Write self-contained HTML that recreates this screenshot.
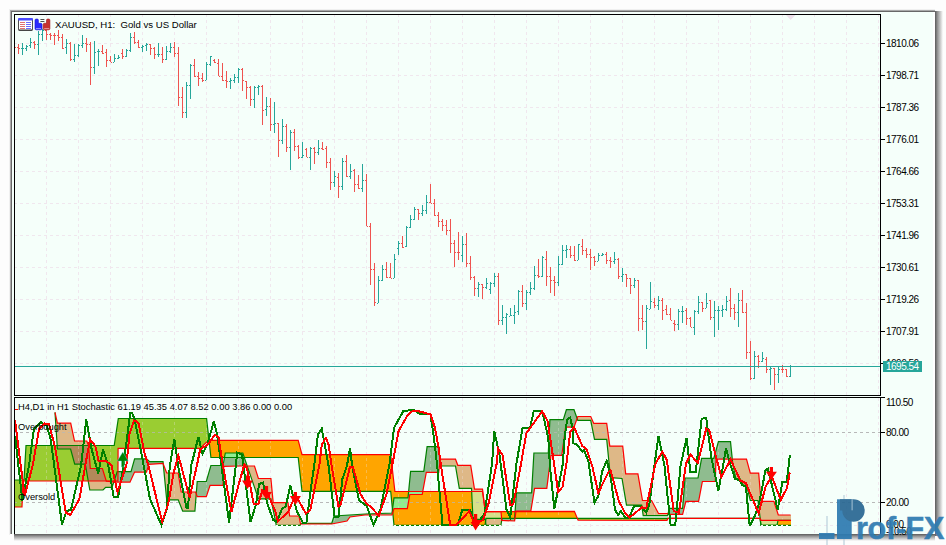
<!DOCTYPE html>
<html><head><meta charset="utf-8">
<style>
html,body{margin:0;padding:0;background:#fdfdfd;}
body{width:946px;height:545px;position:relative;overflow:hidden;font-family:"Liberation Sans",sans-serif;}
svg{position:absolute;left:0;top:0;}
.ax{position:absolute;left:886px;font-size:10px;line-height:12px;color:#000;letter-spacing:-0.5px;}
.t{position:absolute;font-size:9.6px;line-height:12px;color:#000;white-space:nowrap;}
.pl{position:absolute;left:883px;top:361px;width:39px;height:11px;background:#26a69a;color:#fff;font-size:10px;line-height:11px;padding-left:0px;text-indent:3px;letter-spacing:-0.5px;}
</style></head><body>
<svg width="946" height="545" viewBox="0 0 946 545">
<rect x="0" y="0" width="946" height="545" fill="#fdfdfd"/><defs>
<linearGradient id="shR" x1="0" x2="1" y1="0" y2="0"><stop offset="0" stop-color="#5a5a5a"/><stop offset="0.35" stop-color="#9a9a9a"/><stop offset="1" stop-color="#fdfdfd"/></linearGradient>
<linearGradient id="shB" x1="0" x2="0" y1="0" y2="1"><stop offset="0" stop-color="#5a5a5a"/><stop offset="0.35" stop-color="#9a9a9a"/><stop offset="1" stop-color="#fdfdfd"/></linearGradient>
</defs><rect x="935" y="11" width="8" height="525" fill="url(#shR)"/><rect x="14" y="534" width="921" height="7" fill="url(#shB)"/><rect x="9" y="9" width="926" height="1" fill="#f0f0f0"/><rect x="9" y="9" width="1" height="526" fill="#f0f0f0"/><rect x="10" y="10" width="925" height="524" fill="#a9a9a9"/><rect x="11" y="11" width="924" height="523" fill="#686868"/><rect x="12" y="12" width="923" height="522" fill="#f5fffa"/><rect x="933" y="12" width="2" height="522" fill="#ffffff"/><line x1="14" y1="43.5" x2="880" y2="43.5" stroke="#f0e7ee" stroke-width="1" stroke-dasharray="3 3" stroke-dashoffset="0"/><line x1="14" y1="75.5" x2="880" y2="75.5" stroke="#f0e7ee" stroke-width="1" stroke-dasharray="3 3" stroke-dashoffset="0"/><line x1="14" y1="107.5" x2="880" y2="107.5" stroke="#f0e7ee" stroke-width="1" stroke-dasharray="3 3" stroke-dashoffset="0"/><line x1="14" y1="139.5" x2="880" y2="139.5" stroke="#f0e7ee" stroke-width="1" stroke-dasharray="3 3" stroke-dashoffset="0"/><line x1="14" y1="171.5" x2="880" y2="171.5" stroke="#f0e7ee" stroke-width="1" stroke-dasharray="3 3" stroke-dashoffset="0"/><line x1="14" y1="203.5" x2="880" y2="203.5" stroke="#f0e7ee" stroke-width="1" stroke-dasharray="3 3" stroke-dashoffset="0"/><line x1="14" y1="235.5" x2="880" y2="235.5" stroke="#f0e7ee" stroke-width="1" stroke-dasharray="3 3" stroke-dashoffset="0"/><line x1="14" y1="267.5" x2="880" y2="267.5" stroke="#f0e7ee" stroke-width="1" stroke-dasharray="3 3" stroke-dashoffset="0"/><line x1="14" y1="299.5" x2="880" y2="299.5" stroke="#f0e7ee" stroke-width="1" stroke-dasharray="3 3" stroke-dashoffset="0"/><line x1="14" y1="331.5" x2="880" y2="331.5" stroke="#f0e7ee" stroke-width="1" stroke-dasharray="3 3" stroke-dashoffset="0"/><line x1="14" y1="363.5" x2="880" y2="363.5" stroke="#f0e7ee" stroke-width="1" stroke-dasharray="3 3" stroke-dashoffset="0"/><line x1="46.5" y1="14" x2="46.5" y2="395" stroke="#f0e7ee" stroke-width="1" stroke-dasharray="3 3" stroke-dashoffset="0"/><line x1="46.5" y1="398" x2="46.5" y2="534" stroke="#f0e7ee" stroke-width="1" stroke-dasharray="3 3" stroke-dashoffset="0"/><line x1="78.5" y1="14" x2="78.5" y2="395" stroke="#f0e7ee" stroke-width="1" stroke-dasharray="3 3" stroke-dashoffset="0"/><line x1="78.5" y1="398" x2="78.5" y2="534" stroke="#f0e7ee" stroke-width="1" stroke-dasharray="3 3" stroke-dashoffset="0"/><line x1="110.5" y1="14" x2="110.5" y2="395" stroke="#f0e7ee" stroke-width="1" stroke-dasharray="3 3" stroke-dashoffset="0"/><line x1="110.5" y1="398" x2="110.5" y2="534" stroke="#f0e7ee" stroke-width="1" stroke-dasharray="3 3" stroke-dashoffset="0"/><line x1="142.5" y1="14" x2="142.5" y2="395" stroke="#f0e7ee" stroke-width="1" stroke-dasharray="3 3" stroke-dashoffset="0"/><line x1="142.5" y1="398" x2="142.5" y2="534" stroke="#f0e7ee" stroke-width="1" stroke-dasharray="3 3" stroke-dashoffset="0"/><line x1="174.5" y1="14" x2="174.5" y2="395" stroke="#f0e7ee" stroke-width="1" stroke-dasharray="3 3" stroke-dashoffset="0"/><line x1="174.5" y1="398" x2="174.5" y2="534" stroke="#f0e7ee" stroke-width="1" stroke-dasharray="3 3" stroke-dashoffset="0"/><line x1="206.5" y1="14" x2="206.5" y2="395" stroke="#f0e7ee" stroke-width="1" stroke-dasharray="3 3" stroke-dashoffset="0"/><line x1="206.5" y1="398" x2="206.5" y2="534" stroke="#f0e7ee" stroke-width="1" stroke-dasharray="3 3" stroke-dashoffset="0"/><line x1="238.5" y1="14" x2="238.5" y2="395" stroke="#f0e7ee" stroke-width="1" stroke-dasharray="3 3" stroke-dashoffset="0"/><line x1="238.5" y1="398" x2="238.5" y2="534" stroke="#f0e7ee" stroke-width="1" stroke-dasharray="3 3" stroke-dashoffset="0"/><line x1="270.5" y1="14" x2="270.5" y2="395" stroke="#f0e7ee" stroke-width="1" stroke-dasharray="3 3" stroke-dashoffset="0"/><line x1="270.5" y1="398" x2="270.5" y2="534" stroke="#f0e7ee" stroke-width="1" stroke-dasharray="3 3" stroke-dashoffset="0"/><line x1="302.5" y1="14" x2="302.5" y2="395" stroke="#f0e7ee" stroke-width="1" stroke-dasharray="3 3" stroke-dashoffset="0"/><line x1="302.5" y1="398" x2="302.5" y2="534" stroke="#f0e7ee" stroke-width="1" stroke-dasharray="3 3" stroke-dashoffset="0"/><line x1="334.5" y1="14" x2="334.5" y2="395" stroke="#f0e7ee" stroke-width="1" stroke-dasharray="3 3" stroke-dashoffset="0"/><line x1="334.5" y1="398" x2="334.5" y2="534" stroke="#f0e7ee" stroke-width="1" stroke-dasharray="3 3" stroke-dashoffset="0"/><line x1="366.5" y1="14" x2="366.5" y2="395" stroke="#f0e7ee" stroke-width="1" stroke-dasharray="3 3" stroke-dashoffset="0"/><line x1="366.5" y1="398" x2="366.5" y2="534" stroke="#f0e7ee" stroke-width="1" stroke-dasharray="3 3" stroke-dashoffset="0"/><line x1="398.5" y1="14" x2="398.5" y2="395" stroke="#f0e7ee" stroke-width="1" stroke-dasharray="3 3" stroke-dashoffset="0"/><line x1="398.5" y1="398" x2="398.5" y2="534" stroke="#f0e7ee" stroke-width="1" stroke-dasharray="3 3" stroke-dashoffset="0"/><line x1="430.5" y1="14" x2="430.5" y2="395" stroke="#f0e7ee" stroke-width="1" stroke-dasharray="3 3" stroke-dashoffset="0"/><line x1="430.5" y1="398" x2="430.5" y2="534" stroke="#f0e7ee" stroke-width="1" stroke-dasharray="3 3" stroke-dashoffset="0"/><line x1="462.5" y1="14" x2="462.5" y2="395" stroke="#f0e7ee" stroke-width="1" stroke-dasharray="3 3" stroke-dashoffset="0"/><line x1="462.5" y1="398" x2="462.5" y2="534" stroke="#f0e7ee" stroke-width="1" stroke-dasharray="3 3" stroke-dashoffset="0"/><line x1="494.5" y1="14" x2="494.5" y2="395" stroke="#f0e7ee" stroke-width="1" stroke-dasharray="3 3" stroke-dashoffset="0"/><line x1="494.5" y1="398" x2="494.5" y2="534" stroke="#f0e7ee" stroke-width="1" stroke-dasharray="3 3" stroke-dashoffset="0"/><line x1="526.5" y1="14" x2="526.5" y2="395" stroke="#f0e7ee" stroke-width="1" stroke-dasharray="3 3" stroke-dashoffset="0"/><line x1="526.5" y1="398" x2="526.5" y2="534" stroke="#f0e7ee" stroke-width="1" stroke-dasharray="3 3" stroke-dashoffset="0"/><line x1="558.5" y1="14" x2="558.5" y2="395" stroke="#f0e7ee" stroke-width="1" stroke-dasharray="3 3" stroke-dashoffset="0"/><line x1="558.5" y1="398" x2="558.5" y2="534" stroke="#f0e7ee" stroke-width="1" stroke-dasharray="3 3" stroke-dashoffset="0"/><line x1="590.5" y1="14" x2="590.5" y2="395" stroke="#f0e7ee" stroke-width="1" stroke-dasharray="3 3" stroke-dashoffset="0"/><line x1="590.5" y1="398" x2="590.5" y2="534" stroke="#f0e7ee" stroke-width="1" stroke-dasharray="3 3" stroke-dashoffset="0"/><line x1="622.5" y1="14" x2="622.5" y2="395" stroke="#f0e7ee" stroke-width="1" stroke-dasharray="3 3" stroke-dashoffset="0"/><line x1="622.5" y1="398" x2="622.5" y2="534" stroke="#f0e7ee" stroke-width="1" stroke-dasharray="3 3" stroke-dashoffset="0"/><line x1="654.5" y1="14" x2="654.5" y2="395" stroke="#f0e7ee" stroke-width="1" stroke-dasharray="3 3" stroke-dashoffset="0"/><line x1="654.5" y1="398" x2="654.5" y2="534" stroke="#f0e7ee" stroke-width="1" stroke-dasharray="3 3" stroke-dashoffset="0"/><line x1="686.5" y1="14" x2="686.5" y2="395" stroke="#f0e7ee" stroke-width="1" stroke-dasharray="3 3" stroke-dashoffset="0"/><line x1="686.5" y1="398" x2="686.5" y2="534" stroke="#f0e7ee" stroke-width="1" stroke-dasharray="3 3" stroke-dashoffset="0"/><line x1="718.5" y1="14" x2="718.5" y2="395" stroke="#f0e7ee" stroke-width="1" stroke-dasharray="3 3" stroke-dashoffset="0"/><line x1="718.5" y1="398" x2="718.5" y2="534" stroke="#f0e7ee" stroke-width="1" stroke-dasharray="3 3" stroke-dashoffset="0"/><line x1="750.5" y1="14" x2="750.5" y2="395" stroke="#f0e7ee" stroke-width="1" stroke-dasharray="3 3" stroke-dashoffset="0"/><line x1="750.5" y1="398" x2="750.5" y2="534" stroke="#f0e7ee" stroke-width="1" stroke-dasharray="3 3" stroke-dashoffset="0"/><line x1="782.5" y1="14" x2="782.5" y2="395" stroke="#f0e7ee" stroke-width="1" stroke-dasharray="3 3" stroke-dashoffset="0"/><line x1="782.5" y1="398" x2="782.5" y2="534" stroke="#f0e7ee" stroke-width="1" stroke-dasharray="3 3" stroke-dashoffset="0"/><line x1="814.5" y1="14" x2="814.5" y2="395" stroke="#f0e7ee" stroke-width="1" stroke-dasharray="3 3" stroke-dashoffset="0"/><line x1="814.5" y1="398" x2="814.5" y2="534" stroke="#f0e7ee" stroke-width="1" stroke-dasharray="3 3" stroke-dashoffset="0"/><line x1="846.5" y1="14" x2="846.5" y2="395" stroke="#f0e7ee" stroke-width="1" stroke-dasharray="3 3" stroke-dashoffset="0"/><line x1="846.5" y1="398" x2="846.5" y2="534" stroke="#f0e7ee" stroke-width="1" stroke-dasharray="3 3" stroke-dashoffset="0"/><line x1="878.5" y1="14" x2="878.5" y2="395" stroke="#f0e7ee" stroke-width="1" stroke-dasharray="3 3" stroke-dashoffset="0"/><line x1="878.5" y1="398" x2="878.5" y2="534" stroke="#f0e7ee" stroke-width="1" stroke-dasharray="3 3" stroke-dashoffset="0"/><line x1="14" y1="525.5" x2="880" y2="525.5" stroke="#f0e7ee" stroke-width="1" stroke-dasharray="3 3" stroke-dashoffset="0"/><line x1="14" y1="432.5" x2="880" y2="432.5" stroke="#b8b8b8" stroke-width="1" stroke-dasharray="3 3" stroke-dashoffset="0"/><line x1="14" y1="502.5" x2="880" y2="502.5" stroke="#b8b8b8" stroke-width="1" stroke-dasharray="3 3" stroke-dashoffset="0"/><g fill="none" stroke-width="1" shape-rendering="crispEdges"><path d="M18.5 44V54M17 47.5H18M19 48.5H20" stroke="#ef5350"/><path d="M22.5 43V55M21 48.5H22M23 48.5H24" stroke="#26a69a"/><path d="M26.5 45V51M25 48.5H26M27 46.5H28" stroke="#26a69a"/><path d="M30.5 38V48M29 45.5H30M31 42.5H32" stroke="#26a69a"/><path d="M34.5 41V49M33 42.5H34M35 44.5H36" stroke="#ef5350"/><path d="M38.5 31V55M37 44.5H38M39 34.5H40" stroke="#26a69a"/><path d="M42.5 29V41M41 34.5H42M43 30.5H44" stroke="#26a69a"/><path d="M46.5 30V40M45 30.5H46M47 34.5H48" stroke="#ef5350"/><path d="M50.5 33V40M49 34.5H50M51 35.5H52" stroke="#ef5350"/><path d="M54.5 33V45M53 35.5H54M55 35.5H56" stroke="#ef5350"/><path d="M58.5 30V41M57 35.5H58M59 37.5H60" stroke="#ef5350"/><path d="M62.5 34V49M61 37.5H62M63 48.5H64" stroke="#ef5350"/><path d="M66.5 39V54M65 47.5H66M67 43.5H68" stroke="#26a69a"/><path d="M70.5 42V61M69 43.5H70M71 59.5H72" stroke="#ef5350"/><path d="M74.5 44V62M73 59.5H74M75 55.5H76" stroke="#26a69a"/><path d="M78.5 44V57M77 55.5H78M79 45.5H80" stroke="#26a69a"/><path d="M82.5 35V48M81 45.5H82M83 43.5H84" stroke="#26a69a"/><path d="M86.5 38V52M85 43.5H86M87 44.5H88" stroke="#ef5350"/><path d="M90.5 42V85M89 44.5H90M91 67.5H92" stroke="#ef5350"/><path d="M94.5 41V74M93 67.5H94M95 52.5H96" stroke="#26a69a"/><path d="M98.5 49V66M97 51.5H98M99 51.5H100" stroke="#26a69a"/><path d="M102.5 45V54M101 51.5H102M103 53.5H104" stroke="#ef5350"/><path d="M106.5 49V67M105 52.5H106M107 60.5H108" stroke="#ef5350"/><path d="M110.5 56V62M109 60.5H110M111 62.5H112" stroke="#ef5350"/><path d="M114.5 54V62M113 62.5H114M115 58.5H116" stroke="#26a69a"/><path d="M118.5 55V59M117 58.5H118M119 57.5H120" stroke="#26a69a"/><path d="M122.5 49V59M121 53.5H122M123 56.5H124" stroke="#ef5350"/><path d="M126.5 49V57M125 56.5H126M127 50.5H128" stroke="#26a69a"/><path d="M130.5 33V52M129 50.5H130M131 37.5H132" stroke="#26a69a"/><path d="M134.5 32V44M133 37.5H134M135 42.5H136" stroke="#ef5350"/><path d="M138.5 40V48M137 42.5H138M139 47.5H140" stroke="#ef5350"/><path d="M142.5 45V52M141 47.5H142M143 46.5H144" stroke="#26a69a"/><path d="M146.5 43V51M145 45.5H146M147 44.5H148" stroke="#26a69a"/><path d="M150.5 44V55M149 44.5H150M151 48.5H152" stroke="#ef5350"/><path d="M154.5 47V59M153 48.5H154M155 54.5H156" stroke="#ef5350"/><path d="M158.5 43V57M157 54.5H158M159 54.5H160" stroke="#26a69a"/><path d="M162.5 47V63M161 54.5H162M163 59.5H164" stroke="#ef5350"/><path d="M166.5 46V60M165 59.5H166M167 51.5H168" stroke="#26a69a"/><path d="M170.5 43V53M169 51.5H170M171 47.5H172" stroke="#26a69a"/><path d="M174.5 42V57M173 47.5H174M175 53.5H176" stroke="#ef5350"/><path d="M178.5 47V106M177 53.5H178M179 97.5H180" stroke="#ef5350"/><path d="M182.5 87V118M181 97.5H182M183 112.5H184" stroke="#ef5350"/><path d="M186.5 82V118M185 112.5H186M187 85.5H188" stroke="#26a69a"/><path d="M190.5 64V99M189 85.5H190M191 65.5H192" stroke="#26a69a"/><path d="M194.5 59V77M193 65.5H194M195 76.5H196" stroke="#ef5350"/><path d="M198.5 72V86M197 76.5H198M199 78.5H200" stroke="#ef5350"/><path d="M202.5 73V82M201 78.5H202M203 80.5H204" stroke="#ef5350"/><path d="M206.5 62V80M205 80.5H206M207 64.5H208" stroke="#26a69a"/><path d="M210.5 56V66M209 64.5H210M211 56.5H212" stroke="#26a69a"/><path d="M214.5 59V63M213 60.5H214M215 62.5H216" stroke="#ef5350"/><path d="M218.5 59V76M217 63.5H218M219 76.5H220" stroke="#ef5350"/><path d="M222.5 63V81M221 76.5H222M223 80.5H224" stroke="#ef5350"/><path d="M226.5 71V88M225 80.5H226M227 81.5H228" stroke="#ef5350"/><path d="M230.5 78V89M229 81.5H230M231 80.5H232" stroke="#26a69a"/><path d="M234.5 74V83M233 80.5H234M235 77.5H236" stroke="#26a69a"/><path d="M238.5 68V83M237 77.5H238M239 69.5H240" stroke="#26a69a"/><path d="M242.5 68V91M241 69.5H242M243 80.5H244" stroke="#ef5350"/><path d="M246.5 81V99M245 81.5H246M247 87.5H248" stroke="#ef5350"/><path d="M250.5 86V106M249 87.5H250M251 99.5H252" stroke="#ef5350"/><path d="M254.5 86V108M253 99.5H254M255 87.5H256" stroke="#26a69a"/><path d="M258.5 85V95M257 87.5H258M259 86.5H260" stroke="#26a69a"/><path d="M262.5 85V125M261 86.5H262M263 110.5H264" stroke="#ef5350"/><path d="M266.5 97V116M265 109.5H266M267 106.5H268" stroke="#26a69a"/><path d="M270.5 98V131M269 106.5H270M271 124.5H272" stroke="#ef5350"/><path d="M274.5 102V133M273 124.5H274M275 123.5H276" stroke="#26a69a"/><path d="M278.5 123V157M277 123.5H278M279 140.5H280" stroke="#ef5350"/><path d="M282.5 119V144M281 140.5H282M283 126.5H284" stroke="#26a69a"/><path d="M286.5 124V152M285 126.5H286M287 147.5H288" stroke="#ef5350"/><path d="M290.5 130V170M289 147.5H290M291 132.5H292" stroke="#26a69a"/><path d="M294.5 129V151M293 132.5H294M295 146.5H296" stroke="#ef5350"/><path d="M298.5 145V159M297 146.5H298M299 157.5H300" stroke="#ef5350"/><path d="M302.5 142V158M301 157.5H302M303 155.5H304" stroke="#26a69a"/><path d="M306.5 148V157M305 149.5H306M307 157.5H308" stroke="#ef5350"/><path d="M310.5 147V170M309 157.5H310M311 148.5H312" stroke="#26a69a"/><path d="M314.5 147V164M313 148.5H314M315 152.5H316" stroke="#ef5350"/><path d="M318.5 140V155M317 152.5H318M319 148.5H320" stroke="#26a69a"/><path d="M322.5 142V150M321 148.5H322M323 149.5H324" stroke="#ef5350"/><path d="M326.5 146V168M325 148.5H326M327 162.5H328" stroke="#ef5350"/><path d="M330.5 158V190M329 162.5H330M331 182.5H332" stroke="#ef5350"/><path d="M334.5 171V187M333 182.5H334M335 176.5H336" stroke="#26a69a"/><path d="M338.5 173V198M337 177.5H338M339 186.5H340" stroke="#ef5350"/><path d="M342.5 158V190M341 186.5H342M343 161.5H344" stroke="#26a69a"/><path d="M346.5 155V177M345 161.5H346M347 176.5H348" stroke="#ef5350"/><path d="M350.5 164V179M349 176.5H350M351 171.5H352" stroke="#26a69a"/><path d="M354.5 169V192M353 170.5H354M355 184.5H356" stroke="#ef5350"/><path d="M358.5 175V189M357 184.5H358M359 188.5H360" stroke="#ef5350"/><path d="M362.5 164V192M361 188.5H362M363 180.5H364" stroke="#26a69a"/><path d="M366.5 174V226M365 180.5H366M367 226.5H368" stroke="#ef5350"/><path d="M370.5 223V285M369 226.5H370M371 269.5H372" stroke="#ef5350"/><path d="M374.5 263V306M373 269.5H374M375 302.5H376" stroke="#ef5350"/><path d="M378.5 276V303M377 303.5H378M379 280.5H380" stroke="#26a69a"/><path d="M382.5 265V281M381 280.5H382M383 269.5H384" stroke="#26a69a"/><path d="M386.5 262V278M385 269.5H386M387 277.5H388" stroke="#ef5350"/><path d="M390.5 263V278M389 277.5H390M391 278.5H392" stroke="#ef5350"/><path d="M394.5 254V278M393 278.5H394M395 259.5H396" stroke="#26a69a"/><path d="M398.5 241V255M397 248.5H398M399 243.5H400" stroke="#26a69a"/><path d="M402.5 236V248M401 243.5H402M403 247.5H404" stroke="#ef5350"/><path d="M406.5 226V247M405 246.5H406M407 227.5H408" stroke="#26a69a"/><path d="M410.5 215V228M409 227.5H410M411 219.5H412" stroke="#26a69a"/><path d="M414.5 207V220M413 219.5H414M415 209.5H416" stroke="#26a69a"/><path d="M418.5 209V220M417 209.5H418M419 213.5H420" stroke="#ef5350"/><path d="M422.5 205V216M421 213.5H422M423 210.5H424" stroke="#26a69a"/><path d="M426.5 195V214M425 210.5H426M427 202.5H428" stroke="#26a69a"/><path d="M430.5 184V203M429 202.5H430M431 203.5H432" stroke="#ef5350"/><path d="M434.5 199V216M433 203.5H434M435 215.5H436" stroke="#ef5350"/><path d="M438.5 212V227M437 215.5H438M439 221.5H440" stroke="#ef5350"/><path d="M442.5 219V231M441 221.5H442M443 225.5H444" stroke="#ef5350"/><path d="M446.5 220V235M445 225.5H446M447 230.5H448" stroke="#ef5350"/><path d="M450.5 219V253M449 230.5H450M451 243.5H452" stroke="#ef5350"/><path d="M454.5 240V267M453 243.5H454M455 252.5H456" stroke="#ef5350"/><path d="M458.5 232V260M457 252.5H458M459 252.5H460" stroke="#ef5350"/><path d="M462.5 236V262M461 255.5H462M463 244.5H464" stroke="#26a69a"/><path d="M466.5 233V267M465 244.5H466M467 263.5H468" stroke="#ef5350"/><path d="M470.5 256V280M469 263.5H470M471 277.5H472" stroke="#ef5350"/><path d="M474.5 276V296M473 277.5H474M475 288.5H476" stroke="#ef5350"/><path d="M478.5 282V297M477 288.5H478M479 284.5H480" stroke="#26a69a"/><path d="M482.5 284V299M481 284.5H482M483 287.5H484" stroke="#ef5350"/><path d="M486.5 278V289M485 287.5H486M487 283.5H488" stroke="#26a69a"/><path d="M490.5 282V294M489 289.5H490M491 283.5H492" stroke="#26a69a"/><path d="M494.5 273V287M493 283.5H494M495 276.5H496" stroke="#26a69a"/><path d="M498.5 273V325M497 276.5H498M499 320.5H500" stroke="#ef5350"/><path d="M502.5 305V325M501 320.5H502M503 317.5H504" stroke="#26a69a"/><path d="M506.5 313V334M505 317.5H506M507 314.5H508" stroke="#26a69a"/><path d="M510.5 308V316M509 316.5H510M511 315.5H512" stroke="#26a69a"/><path d="M514.5 305V324M513 315.5H514M515 312.5H516" stroke="#26a69a"/><path d="M518.5 290V315M517 311.5H518M519 291.5H520" stroke="#26a69a"/><path d="M522.5 285V307M521 291.5H522M523 303.5H524" stroke="#ef5350"/><path d="M526.5 290V310M525 303.5H526M527 292.5H528" stroke="#26a69a"/><path d="M530.5 282V295M529 292.5H530M531 288.5H532" stroke="#26a69a"/><path d="M534.5 266V290M533 288.5H534M535 275.5H536" stroke="#26a69a"/><path d="M538.5 259V278M537 275.5H538M539 276.5H540" stroke="#ef5350"/><path d="M542.5 256V277M541 276.5H542M543 257.5H544" stroke="#26a69a"/><path d="M546.5 251V286M545 259.5H546M547 276.5H548" stroke="#ef5350"/><path d="M550.5 267V293M549 276.5H550M551 280.5H552" stroke="#ef5350"/><path d="M554.5 276V296M553 280.5H554M555 282.5H556" stroke="#ef5350"/><path d="M558.5 256V286M557 282.5H558M559 264.5H560" stroke="#26a69a"/><path d="M562.5 245V265M561 264.5H562M563 250.5H564" stroke="#26a69a"/><path d="M566.5 245V258M565 250.5H566M567 249.5H568" stroke="#26a69a"/><path d="M570.5 246V258M569 249.5H570M571 255.5H572" stroke="#ef5350"/><path d="M574.5 246V261M573 255.5H574M575 260.5H576" stroke="#ef5350"/><path d="M578.5 244V260M577 260.5H578M579 244.5H580" stroke="#26a69a"/><path d="M582.5 239V255M581 246.5H582M583 250.5H584" stroke="#ef5350"/><path d="M586.5 248V258M585 250.5H586M587 254.5H588" stroke="#ef5350"/><path d="M590.5 249V270M589 254.5H590M591 257.5H592" stroke="#ef5350"/><path d="M594.5 256V266M593 257.5H594M595 261.5H596" stroke="#ef5350"/><path d="M598.5 253V261M597 261.5H598M599 255.5H600" stroke="#26a69a"/><path d="M602.5 253V256M601 255.5H602M603 254.5H604" stroke="#26a69a"/><path d="M606.5 252V264M605 254.5H606M607 260.5H608" stroke="#ef5350"/><path d="M610.5 257V268M609 260.5H610M611 261.5H612" stroke="#ef5350"/><path d="M614.5 252V264M613 261.5H614M615 259.5H616" stroke="#26a69a"/><path d="M618.5 258V279M617 259.5H618M619 276.5H620" stroke="#ef5350"/><path d="M622.5 268V282M621 276.5H622M623 274.5H624" stroke="#26a69a"/><path d="M626.5 274V287M625 274.5H626M627 278.5H628" stroke="#ef5350"/><path d="M630.5 278V294M629 278.5H630M631 285.5H632" stroke="#ef5350"/><path d="M634.5 278V288M633 285.5H634M635 280.5H636" stroke="#26a69a"/><path d="M638.5 280V331M637 280.5H638M639 318.5H640" stroke="#ef5350"/><path d="M642.5 305V330M641 318.5H642M643 321.5H644" stroke="#ef5350"/><path d="M646.5 305V349M645 321.5H646M647 308.5H648" stroke="#26a69a"/><path d="M650.5 282V309M649 309.5H650M651 301.5H652" stroke="#26a69a"/><path d="M654.5 298V308M653 302.5H654M655 305.5H656" stroke="#ef5350"/><path d="M658.5 296V310M657 305.5H658M659 300.5H660" stroke="#26a69a"/><path d="M662.5 298V320M661 300.5H662M663 310.5H664" stroke="#ef5350"/><path d="M666.5 305V315M665 309.5H666M667 314.5H668" stroke="#ef5350"/><path d="M670.5 308V320M669 314.5H670M671 320.5H672" stroke="#ef5350"/><path d="M674.5 320V331M673 323.5H674M675 324.5H676" stroke="#ef5350"/><path d="M678.5 309V330M677 324.5H678M679 311.5H680" stroke="#26a69a"/><path d="M682.5 306V323M681 311.5H682M683 311.5H684" stroke="#26a69a"/><path d="M686.5 308V325M685 310.5H686M687 318.5H688" stroke="#ef5350"/><path d="M690.5 317V327M689 318.5H690M691 327.5H692" stroke="#ef5350"/><path d="M694.5 310V335M693 327.5H694M695 311.5H696" stroke="#26a69a"/><path d="M698.5 296V314M697 311.5H698M699 302.5H700" stroke="#26a69a"/><path d="M702.5 302V312M701 302.5H702M703 308.5H704" stroke="#ef5350"/><path d="M706.5 293V308M705 308.5H706M707 303.5H708" stroke="#26a69a"/><path d="M710.5 300V320M709 300.5H710M711 317.5H712" stroke="#ef5350"/><path d="M714.5 301V337M713 317.5H714M715 310.5H716" stroke="#26a69a"/><path d="M718.5 306V330M717 310.5H718M719 310.5H720" stroke="#26a69a"/><path d="M722.5 305V317M721 310.5H722M723 309.5H724" stroke="#26a69a"/><path d="M726.5 296V311M725 309.5H726M727 301.5H728" stroke="#26a69a"/><path d="M730.5 288V317M729 300.5H730M731 308.5H732" stroke="#ef5350"/><path d="M734.5 304V320M733 308.5H734M735 312.5H736" stroke="#ef5350"/><path d="M738.5 293V327M737 312.5H738M739 300.5H740" stroke="#26a69a"/><path d="M742.5 290V313M741 300.5H742M743 312.5H744" stroke="#ef5350"/><path d="M746.5 303V359M745 312.5H746M747 352.5H748" stroke="#ef5350"/><path d="M750.5 341V380M749 352.5H750M751 378.5H752" stroke="#ef5350"/><path d="M754.5 351V379M753 378.5H754M755 356.5H756" stroke="#26a69a"/><path d="M758.5 355V368M757 356.5H758M759 361.5H760" stroke="#ef5350"/><path d="M762.5 352V362M761 361.5H762M763 358.5H764" stroke="#26a69a"/><path d="M766.5 357V373M765 359.5H766M767 369.5H768" stroke="#ef5350"/><path d="M770.5 367V385M769 369.5H770M771 368.5H772" stroke="#26a69a"/><path d="M774.5 368V390M773 368.5H774M775 374.5H776" stroke="#ef5350"/><path d="M778.5 367V383M777 374.5H778M779 369.5H780" stroke="#26a69a"/><path d="M782.5 365V373M781 369.5H782M783 369.5H784" stroke="#ef5350"/><path d="M786.5 369V377M785 369.5H786M787 376.5H788" stroke="#ef5350"/><path d="M790.5 365V377M789 376.5H790M791 366.5H792" stroke="#26a69a"/><path d="M15 47.5H16" stroke="#ef5350"/></g><path d="M786 15H795.5L790.7 20Z" fill="#ece0ea"/><rect x="15" y="366" width="865" height="1" fill="#26a69a"/><g shape-rendering="crispEdges"><rect x="15" y="480" width="7" height="27" fill="#9acd32"/><rect x="22" y="480" width="1" height="14" fill="#9acd32"/><rect x="23" y="480" width="1" height="1" fill="#9acd32"/><rect x="24" y="471" width="1" height="10" fill="#9acd32"/><rect x="25" y="454" width="1" height="27" fill="#9acd32"/><rect x="26" y="446" width="88" height="35" fill="#9acd32"/><rect x="114" y="444" width="1" height="37" fill="#9acd32"/><rect x="115" y="437" width="1" height="44" fill="#9acd32"/><rect x="116" y="430" width="1" height="51" fill="#9acd32"/><rect x="117" y="424" width="1" height="57" fill="#9acd32"/><rect x="118" y="418" width="83" height="30" fill="#9acd32"/><rect x="201" y="418" width="1" height="29" fill="#9acd32"/><rect x="202" y="418" width="1" height="28" fill="#9acd32"/><rect x="203" y="418" width="1" height="27" fill="#9acd32"/><rect x="204" y="418" width="1" height="26" fill="#9acd32"/><rect x="205" y="418" width="1" height="25" fill="#9acd32"/><rect x="206" y="418" width="1" height="24" fill="#9acd32"/><rect x="207" y="427" width="1" height="14" fill="#9acd32"/><rect x="208" y="436" width="1" height="4" fill="#9acd32"/><rect x="209" y="440" width="1" height="5" fill="#ffa500"/><rect x="210" y="440" width="1" height="14" fill="#ffa500"/><rect x="211" y="440" width="87" height="18" fill="#ffa500"/><rect x="298" y="442" width="1" height="18" fill="#ffa500"/><rect x="299" y="445" width="1" height="24" fill="#ffa500"/><rect x="300" y="449" width="1" height="29" fill="#ffa500"/><rect x="301" y="453" width="1" height="34" fill="#ffa500"/><rect x="302" y="455" width="89" height="36" fill="#ffa500"/><rect x="391" y="462" width="1" height="38" fill="#ffa500"/><rect x="392" y="470" width="1" height="40" fill="#ffa500"/><rect x="393" y="479" width="1" height="41" fill="#ffa500"/><rect x="394" y="488" width="1" height="37" fill="#ffa500"/><rect x="395" y="491" width="87" height="34" fill="#ffa500"/><rect x="482" y="492" width="1" height="33" fill="#ffa500"/><rect x="483" y="499" width="1" height="26" fill="#ffa500"/><rect x="484" y="506" width="1" height="19" fill="#ffa500"/><rect x="485" y="512" width="1" height="10" fill="#ffa500"/><rect x="486" y="512" width="44" height="6" fill="#ffa500"/><rect x="530" y="511" width="44" height="7" fill="#ffa500"/><rect x="574" y="512" width="1" height="6" fill="#ffa500"/><rect x="575" y="514" width="1" height="4" fill="#ffa500"/><rect x="576" y="516" width="1" height="2" fill="#ffa500"/><rect x="577" y="417" width="1" height="3" fill="#deb887"/><rect x="578" y="518" width="89" height="2" fill="#9acd32"/><rect x="667" y="518" width="1" height="1" fill="#9acd32"/><rect x="668" y="512" width="1" height="2" fill="#8fbc8f"/><rect x="669" y="508" width="14" height="6" fill="#8fbc8f"/><rect x="683" y="497" width="1" height="14" fill="#8fbc8f"/><rect x="684" y="484" width="1" height="23" fill="#8fbc8f"/><rect x="685" y="478" width="1" height="25" fill="#8fbc8f"/><rect x="686" y="478" width="12" height="23" fill="#8fbc8f"/><rect x="698" y="475" width="1" height="26" fill="#8fbc8f"/><rect x="699" y="470" width="1" height="27" fill="#8fbc8f"/><rect x="700" y="464" width="1" height="27" fill="#8fbc8f"/><rect x="701" y="459" width="1" height="27" fill="#8fbc8f"/><rect x="702" y="458" width="12" height="24" fill="#8fbc8f"/><rect x="714" y="456" width="1" height="26" fill="#8fbc8f"/><rect x="715" y="452" width="1" height="23" fill="#8fbc8f"/><rect x="716" y="449" width="1" height="10" fill="#8fbc8f"/><rect x="717" y="445" width="1" height="14" fill="#8fbc8f"/><rect x="718" y="442" width="13" height="17" fill="#8fbc8f"/><rect x="731" y="451" width="1" height="8" fill="#8fbc8f"/><rect x="732" y="459" width="1" height="2" fill="#deb887"/><rect x="733" y="459" width="1" height="9" fill="#deb887"/><rect x="734" y="459" width="1" height="13" fill="#deb887"/><rect x="735" y="459" width="1" height="18" fill="#deb887"/><rect x="736" y="459" width="4" height="19" fill="#deb887"/><rect x="740" y="459" width="1" height="20" fill="#deb887"/><rect x="741" y="459" width="1" height="22" fill="#deb887"/><rect x="742" y="459" width="1" height="24" fill="#deb887"/><rect x="743" y="459" width="4" height="26" fill="#deb887"/><rect x="747" y="463" width="1" height="26" fill="#deb887"/><rect x="748" y="467" width="1" height="26" fill="#deb887"/><rect x="749" y="470" width="1" height="27" fill="#deb887"/><rect x="750" y="473" width="8" height="27" fill="#deb887"/><rect x="758" y="473" width="1" height="32" fill="#deb887"/><rect x="759" y="483" width="1" height="30" fill="#deb887"/><rect x="760" y="519" width="1" height="3" fill="#ffa500"/><rect x="761" y="520" width="30" height="5" fill="#ffa500"/><rect x="55" y="415" width="1" height="5" fill="#deb887"/><rect x="56" y="419" width="1" height="16" fill="#deb887"/><rect x="57" y="423" width="14" height="26" fill="#deb887"/><rect x="71" y="427" width="1" height="25" fill="#deb887"/><rect x="72" y="432" width="1" height="24" fill="#deb887"/><rect x="73" y="436" width="1" height="24" fill="#deb887"/><rect x="74" y="441" width="1" height="22" fill="#deb887"/><rect x="75" y="441" width="10" height="23" fill="#deb887"/><rect x="85" y="441" width="1" height="24" fill="#deb887"/><rect x="86" y="441" width="1" height="30" fill="#deb887"/><rect x="87" y="443" width="1" height="34" fill="#deb887"/><rect x="88" y="446" width="1" height="37" fill="#deb887"/><rect x="89" y="458" width="1" height="30" fill="#deb887"/><rect x="90" y="468" width="12" height="22" fill="#deb887"/><rect x="102" y="469" width="1" height="21" fill="#deb887"/><rect x="103" y="472" width="1" height="18" fill="#deb887"/><rect x="104" y="475" width="1" height="13" fill="#deb887"/><rect x="105" y="479" width="1" height="9" fill="#deb887"/><rect x="106" y="481" width="3" height="6" fill="#deb887"/><rect x="109" y="482" width="3" height="5" fill="#deb887"/><rect x="112" y="482" width="1" height="4" fill="#deb887"/><rect x="113" y="482" width="1" height="1" fill="#deb887"/><rect x="114" y="480" width="1" height="2" fill="#8fbc8f"/><rect x="115" y="477" width="1" height="5" fill="#8fbc8f"/><rect x="116" y="474" width="1" height="8" fill="#8fbc8f"/><rect x="117" y="472" width="13" height="10" fill="#8fbc8f"/><rect x="130" y="472" width="1" height="9" fill="#8fbc8f"/><rect x="131" y="470" width="1" height="9" fill="#8fbc8f"/><rect x="132" y="466" width="1" height="11" fill="#8fbc8f"/><rect x="133" y="463" width="1" height="12" fill="#8fbc8f"/><rect x="134" y="459" width="13" height="13" fill="#8fbc8f"/><rect x="147" y="460" width="1" height="9" fill="#8fbc8f"/><rect x="148" y="461" width="1" height="4" fill="#8fbc8f"/><rect x="149" y="461" width="1" height="3" fill="#8fbc8f"/><rect x="150" y="462" width="11" height="2" fill="#8fbc8f"/><rect x="161" y="462" width="2" height="1" fill="#8fbc8f"/><rect x="163" y="465" width="1" height="2" fill="#deb887"/><rect x="164" y="467" width="1" height="10" fill="#deb887"/><rect x="165" y="470" width="1" height="17" fill="#deb887"/><rect x="166" y="472" width="1" height="26" fill="#deb887"/><rect x="167" y="473" width="11" height="27" fill="#deb887"/><rect x="178" y="475" width="1" height="26" fill="#deb887"/><rect x="179" y="481" width="1" height="22" fill="#deb887"/><rect x="180" y="488" width="1" height="18" fill="#deb887"/><rect x="181" y="492" width="1" height="16" fill="#deb887"/><rect x="182" y="492" width="13" height="19" fill="#deb887"/><rect x="195" y="492" width="1" height="11" fill="#deb887"/><rect x="196" y="491" width="1" height="4" fill="#8fbc8f"/><rect x="197" y="482" width="9" height="15" fill="#8fbc8f"/><rect x="206" y="481" width="1" height="15" fill="#8fbc8f"/><rect x="207" y="477" width="1" height="16" fill="#8fbc8f"/><rect x="208" y="474" width="1" height="16" fill="#8fbc8f"/><rect x="209" y="470" width="1" height="17" fill="#8fbc8f"/><rect x="210" y="467" width="1" height="18" fill="#8fbc8f"/><rect x="211" y="466" width="12" height="19" fill="#8fbc8f"/><rect x="223" y="463" width="1" height="10" fill="#8fbc8f"/><rect x="224" y="457" width="1" height="9" fill="#8fbc8f"/><rect x="225" y="453" width="18" height="13" fill="#8fbc8f"/><rect x="243" y="455" width="1" height="11" fill="#8fbc8f"/><rect x="244" y="458" width="1" height="8" fill="#8fbc8f"/><rect x="245" y="461" width="1" height="5" fill="#8fbc8f"/><rect x="246" y="464" width="1" height="2" fill="#8fbc8f"/><rect x="247" y="466" width="1" height="1" fill="#deb887"/><rect x="248" y="466" width="1" height="4" fill="#deb887"/><rect x="249" y="466" width="1" height="7" fill="#deb887"/><rect x="250" y="466" width="1" height="10" fill="#deb887"/><rect x="251" y="466" width="1" height="13" fill="#deb887"/><rect x="252" y="466" width="1" height="15" fill="#deb887"/><rect x="253" y="466" width="1" height="18" fill="#deb887"/><rect x="254" y="466" width="1" height="21" fill="#deb887"/><rect x="255" y="469" width="1" height="21" fill="#deb887"/><rect x="256" y="472" width="1" height="21" fill="#deb887"/><rect x="257" y="476" width="1" height="20" fill="#deb887"/><rect x="258" y="478" width="13" height="21" fill="#deb887"/><rect x="271" y="485" width="1" height="17" fill="#deb887"/><rect x="272" y="495" width="1" height="12" fill="#deb887"/><rect x="273" y="503" width="1" height="9" fill="#deb887"/><rect x="274" y="503" width="1" height="13" fill="#deb887"/><rect x="275" y="503" width="1" height="18" fill="#deb887"/><rect x="276" y="503" width="12" height="22" fill="#deb887"/><rect x="288" y="507" width="1" height="18" fill="#deb887"/><rect x="289" y="515" width="1" height="10" fill="#deb887"/><rect x="290" y="516" width="9" height="9" fill="#deb887"/><rect x="299" y="519" width="1" height="6" fill="#deb887"/><rect x="301" y="523" width="31" height="1" fill="#8fbc8f"/><rect x="332" y="521" width="1" height="3" fill="#8fbc8f"/><rect x="333" y="518" width="1" height="6" fill="#8fbc8f"/><rect x="334" y="516" width="5" height="7" fill="#8fbc8f"/><rect x="339" y="516" width="3" height="6" fill="#8fbc8f"/><rect x="342" y="515" width="2" height="7" fill="#8fbc8f"/><rect x="344" y="515" width="3" height="6" fill="#8fbc8f"/><rect x="347" y="515" width="1" height="5" fill="#8fbc8f"/><rect x="348" y="515" width="1" height="4" fill="#8fbc8f"/><rect x="349" y="515" width="1" height="3" fill="#8fbc8f"/><rect x="350" y="515" width="4" height="2" fill="#8fbc8f"/><rect x="354" y="515" width="3" height="1" fill="#8fbc8f"/><rect x="357" y="514" width="4" height="2" fill="#8fbc8f"/><rect x="361" y="514" width="18" height="1" fill="#8fbc8f"/><rect x="379" y="513" width="13" height="2" fill="#8fbc8f"/><rect x="392" y="509" width="1" height="4" fill="#8fbc8f"/><rect x="393" y="502" width="1" height="8" fill="#8fbc8f"/><rect x="394" y="498" width="13" height="11" fill="#8fbc8f"/><rect x="407" y="498" width="1" height="9" fill="#8fbc8f"/><rect x="408" y="493" width="1" height="9" fill="#8fbc8f"/><rect x="409" y="483" width="1" height="13" fill="#8fbc8f"/><rect x="410" y="472" width="1" height="22" fill="#8fbc8f"/><rect x="411" y="471" width="11" height="23" fill="#8fbc8f"/><rect x="422" y="471" width="1" height="22" fill="#8fbc8f"/><rect x="423" y="471" width="1" height="16" fill="#8fbc8f"/><rect x="424" y="466" width="1" height="16" fill="#8fbc8f"/><rect x="425" y="459" width="1" height="18" fill="#8fbc8f"/><rect x="426" y="451" width="1" height="21" fill="#8fbc8f"/><rect x="427" y="447" width="12" height="25" fill="#8fbc8f"/><rect x="439" y="456" width="1" height="10" fill="#8fbc8f"/><rect x="440" y="459" width="16" height="7" fill="#deb887"/><rect x="456" y="462" width="1" height="10" fill="#deb887"/><rect x="457" y="465" width="1" height="13" fill="#deb887"/><rect x="458" y="465" width="1" height="19" fill="#deb887"/><rect x="459" y="465" width="12" height="23" fill="#deb887"/><rect x="471" y="470" width="1" height="18" fill="#deb887"/><rect x="472" y="477" width="1" height="32" fill="#deb887"/><rect x="473" y="483" width="1" height="36" fill="#deb887"/><rect x="474" y="489" width="9" height="30" fill="#deb887"/><rect x="483" y="497" width="1" height="22" fill="#deb887"/><rect x="484" y="505" width="1" height="14" fill="#deb887"/><rect x="485" y="512" width="1" height="9" fill="#deb887"/><rect x="486" y="512" width="15" height="13" fill="#deb887"/><rect x="501" y="517" width="1" height="5" fill="#deb887"/><rect x="502" y="518" width="2" height="2" fill="#8fbc8f"/><rect x="504" y="518" width="11" height="3" fill="#8fbc8f"/><rect x="515" y="506" width="1" height="9" fill="#8fbc8f"/><rect x="516" y="493" width="15" height="18" fill="#8fbc8f"/><rect x="531" y="493" width="1" height="14" fill="#8fbc8f"/><rect x="532" y="477" width="1" height="24" fill="#8fbc8f"/><rect x="533" y="460" width="1" height="35" fill="#8fbc8f"/><rect x="534" y="453" width="1" height="36" fill="#8fbc8f"/><rect x="535" y="453" width="12" height="35" fill="#8fbc8f"/><rect x="547" y="453" width="1" height="30" fill="#8fbc8f"/><rect x="548" y="449" width="1" height="26" fill="#8fbc8f"/><rect x="549" y="428" width="1" height="39" fill="#8fbc8f"/><rect x="550" y="420" width="1" height="39" fill="#8fbc8f"/><rect x="551" y="420" width="11" height="35" fill="#8fbc8f"/><rect x="562" y="420" width="1" height="30" fill="#8fbc8f"/><rect x="563" y="419" width="1" height="24" fill="#8fbc8f"/><rect x="564" y="416" width="1" height="19" fill="#8fbc8f"/><rect x="565" y="413" width="1" height="15" fill="#8fbc8f"/><rect x="566" y="410" width="8" height="17" fill="#8fbc8f"/><rect x="574" y="411" width="1" height="15" fill="#8fbc8f"/><rect x="575" y="414" width="1" height="9" fill="#8fbc8f"/><rect x="576" y="417" width="1" height="3" fill="#8fbc8f"/><rect x="578" y="416" width="13" height="4" fill="#deb887"/><rect x="591" y="418" width="1" height="6" fill="#deb887"/><rect x="592" y="421" width="1" height="8" fill="#deb887"/><rect x="593" y="423" width="1" height="11" fill="#deb887"/><rect x="594" y="423" width="13" height="16" fill="#deb887"/><rect x="607" y="429" width="1" height="18" fill="#deb887"/><rect x="608" y="437" width="1" height="21" fill="#deb887"/><rect x="609" y="444" width="1" height="24" fill="#deb887"/><rect x="610" y="446" width="12" height="32" fill="#deb887"/><rect x="622" y="446" width="1" height="35" fill="#deb887"/><rect x="623" y="454" width="1" height="33" fill="#deb887"/><rect x="624" y="463" width="1" height="30" fill="#deb887"/><rect x="625" y="472" width="1" height="27" fill="#deb887"/><rect x="626" y="474" width="12" height="31" fill="#deb887"/><rect x="638" y="477" width="1" height="28" fill="#deb887"/><rect x="639" y="483" width="1" height="22" fill="#deb887"/><rect x="640" y="489" width="1" height="16" fill="#deb887"/><rect x="641" y="495" width="1" height="10" fill="#deb887"/><rect x="642" y="500" width="1" height="11" fill="#deb887"/><rect x="643" y="500" width="9" height="16" fill="#deb887"/><rect x="652" y="502" width="1" height="14" fill="#deb887"/><rect x="653" y="504" width="1" height="12" fill="#deb887"/><rect x="654" y="506" width="1" height="10" fill="#deb887"/><rect x="655" y="508" width="1" height="8" fill="#deb887"/><rect x="656" y="510" width="1" height="6" fill="#deb887"/><rect x="657" y="512" width="1" height="4" fill="#deb887"/><rect x="658" y="514" width="10" height="2" fill="#deb887"/><rect x="760" y="495" width="1" height="26" fill="#deb887"/><rect x="761" y="501" width="13" height="24" fill="#deb887"/><rect x="774" y="503" width="1" height="22" fill="#deb887"/><rect x="775" y="506" width="1" height="19" fill="#deb887"/><rect x="776" y="509" width="1" height="16" fill="#deb887"/><rect x="777" y="513" width="1" height="10" fill="#deb887"/><rect x="778" y="515" width="13" height="5" fill="#deb887"/><rect x="57" y="446" width="14" height="3" fill="#b3895a"/><rect x="71" y="446" width="1" height="6" fill="#b3895a"/><rect x="72" y="446" width="1" height="10" fill="#b3895a"/><rect x="73" y="446" width="1" height="14" fill="#b3895a"/><rect x="74" y="446" width="1" height="17" fill="#b3895a"/><rect x="75" y="446" width="10" height="18" fill="#b3895a"/><rect x="85" y="446" width="1" height="19" fill="#b3895a"/><rect x="86" y="446" width="1" height="25" fill="#b3895a"/><rect x="87" y="446" width="1" height="31" fill="#b3895a"/><rect x="88" y="446" width="1" height="35" fill="#b3895a"/><rect x="89" y="458" width="1" height="23" fill="#b3895a"/><rect x="90" y="468" width="12" height="13" fill="#b3895a"/><rect x="102" y="469" width="1" height="12" fill="#b3895a"/><rect x="103" y="472" width="1" height="9" fill="#b3895a"/><rect x="104" y="475" width="1" height="6" fill="#b3895a"/><rect x="105" y="479" width="1" height="2" fill="#b3895a"/><rect x="114" y="480" width="1" height="1" fill="#86c65e"/><rect x="115" y="477" width="1" height="4" fill="#86c65e"/><rect x="116" y="474" width="1" height="7" fill="#86c65e"/><rect x="117" y="472" width="1" height="9" fill="#86c65e"/><rect x="224" y="457" width="1" height="1" fill="#90ee90"/><rect x="225" y="453" width="18" height="5" fill="#90ee90"/><rect x="243" y="455" width="1" height="3" fill="#90ee90"/><rect x="392" y="509" width="1" height="1" fill="#90ee90"/><rect x="393" y="502" width="1" height="8" fill="#90ee90"/><rect x="394" y="498" width="13" height="11" fill="#90ee90"/><rect x="407" y="498" width="1" height="9" fill="#90ee90"/><rect x="408" y="493" width="1" height="9" fill="#90ee90"/><rect x="409" y="491" width="1" height="5" fill="#90ee90"/><rect x="410" y="491" width="12" height="3" fill="#90ee90"/><rect x="422" y="491" width="1" height="2" fill="#90ee90"/><rect x="472" y="491" width="1" height="18" fill="#d6e08a"/><rect x="473" y="491" width="9" height="28" fill="#d6e08a"/><rect x="482" y="492" width="1" height="27" fill="#d6e08a"/><rect x="483" y="499" width="1" height="20" fill="#d6e08a"/><rect x="484" y="506" width="1" height="13" fill="#d6e08a"/><rect x="485" y="512" width="1" height="9" fill="#d6e08a"/><rect x="486" y="512" width="15" height="6" fill="#d6e08a"/><rect x="501" y="517" width="1" height="1" fill="#d6e08a"/><rect x="515" y="512" width="1" height="3" fill="#90ee90"/><rect x="760" y="519" width="1" height="2" fill="#d6e08a"/><rect x="761" y="520" width="16" height="5" fill="#d6e08a"/><rect x="777" y="520" width="1" height="3" fill="#d6e08a"/></g><g opacity="0.3"><line x1="46.5" y1="398" x2="46.5" y2="534" stroke="#f0e7ee" stroke-width="1" stroke-dasharray="3 3" stroke-dashoffset="0"/><line x1="78.5" y1="398" x2="78.5" y2="534" stroke="#f0e7ee" stroke-width="1" stroke-dasharray="3 3" stroke-dashoffset="0"/><line x1="110.5" y1="398" x2="110.5" y2="534" stroke="#f0e7ee" stroke-width="1" stroke-dasharray="3 3" stroke-dashoffset="0"/><line x1="142.5" y1="398" x2="142.5" y2="534" stroke="#f0e7ee" stroke-width="1" stroke-dasharray="3 3" stroke-dashoffset="0"/><line x1="174.5" y1="398" x2="174.5" y2="534" stroke="#f0e7ee" stroke-width="1" stroke-dasharray="3 3" stroke-dashoffset="0"/><line x1="206.5" y1="398" x2="206.5" y2="534" stroke="#f0e7ee" stroke-width="1" stroke-dasharray="3 3" stroke-dashoffset="0"/><line x1="238.5" y1="398" x2="238.5" y2="534" stroke="#f0e7ee" stroke-width="1" stroke-dasharray="3 3" stroke-dashoffset="0"/><line x1="270.5" y1="398" x2="270.5" y2="534" stroke="#f0e7ee" stroke-width="1" stroke-dasharray="3 3" stroke-dashoffset="0"/><line x1="302.5" y1="398" x2="302.5" y2="534" stroke="#f0e7ee" stroke-width="1" stroke-dasharray="3 3" stroke-dashoffset="0"/><line x1="334.5" y1="398" x2="334.5" y2="534" stroke="#f0e7ee" stroke-width="1" stroke-dasharray="3 3" stroke-dashoffset="0"/><line x1="366.5" y1="398" x2="366.5" y2="534" stroke="#f0e7ee" stroke-width="1" stroke-dasharray="3 3" stroke-dashoffset="0"/><line x1="398.5" y1="398" x2="398.5" y2="534" stroke="#f0e7ee" stroke-width="1" stroke-dasharray="3 3" stroke-dashoffset="0"/><line x1="430.5" y1="398" x2="430.5" y2="534" stroke="#f0e7ee" stroke-width="1" stroke-dasharray="3 3" stroke-dashoffset="0"/><line x1="462.5" y1="398" x2="462.5" y2="534" stroke="#f0e7ee" stroke-width="1" stroke-dasharray="3 3" stroke-dashoffset="0"/><line x1="494.5" y1="398" x2="494.5" y2="534" stroke="#f0e7ee" stroke-width="1" stroke-dasharray="3 3" stroke-dashoffset="0"/><line x1="526.5" y1="398" x2="526.5" y2="534" stroke="#f0e7ee" stroke-width="1" stroke-dasharray="3 3" stroke-dashoffset="0"/><line x1="558.5" y1="398" x2="558.5" y2="534" stroke="#f0e7ee" stroke-width="1" stroke-dasharray="3 3" stroke-dashoffset="0"/><line x1="590.5" y1="398" x2="590.5" y2="534" stroke="#f0e7ee" stroke-width="1" stroke-dasharray="3 3" stroke-dashoffset="0"/><line x1="622.5" y1="398" x2="622.5" y2="534" stroke="#f0e7ee" stroke-width="1" stroke-dasharray="3 3" stroke-dashoffset="0"/><line x1="654.5" y1="398" x2="654.5" y2="534" stroke="#f0e7ee" stroke-width="1" stroke-dasharray="3 3" stroke-dashoffset="0"/><line x1="686.5" y1="398" x2="686.5" y2="534" stroke="#f0e7ee" stroke-width="1" stroke-dasharray="3 3" stroke-dashoffset="0"/><line x1="718.5" y1="398" x2="718.5" y2="534" stroke="#f0e7ee" stroke-width="1" stroke-dasharray="3 3" stroke-dashoffset="0"/><line x1="750.5" y1="398" x2="750.5" y2="534" stroke="#f0e7ee" stroke-width="1" stroke-dasharray="3 3" stroke-dashoffset="0"/><line x1="782.5" y1="398" x2="782.5" y2="534" stroke="#f0e7ee" stroke-width="1" stroke-dasharray="3 3" stroke-dashoffset="0"/><line x1="814.5" y1="398" x2="814.5" y2="534" stroke="#f0e7ee" stroke-width="1" stroke-dasharray="3 3" stroke-dashoffset="0"/><line x1="846.5" y1="398" x2="846.5" y2="534" stroke="#f0e7ee" stroke-width="1" stroke-dasharray="3 3" stroke-dashoffset="0"/><line x1="878.5" y1="398" x2="878.5" y2="534" stroke="#f0e7ee" stroke-width="1" stroke-dasharray="3 3" stroke-dashoffset="0"/><line x1="14" y1="525.5" x2="880" y2="525.5" stroke="#f0e7ee" stroke-width="1" stroke-dasharray="3 3" stroke-dashoffset="0"/></g><g opacity="0.7"><line x1="14" y1="432.5" x2="880" y2="432.5" stroke="#b8b8b8" stroke-width="1" stroke-dasharray="3 3" stroke-dashoffset="0"/><line x1="14" y1="502.5" x2="880" y2="502.5" stroke="#b8b8b8" stroke-width="1" stroke-dasharray="3 3" stroke-dashoffset="0"/></g><g><polyline points="15.0,480.0 24.0,480.0 26.0,445.5 114.2,445.5 118.3,418.5 206.6,418.5 210.9,457.5 298.2,457.5 302.0,491.3 390.7,491.3 394.0,525.3 485.0,525.3 486.0,518.3 667.0,518.3 668.0,518.3 760.0,518.3 761.0,525.3 791.0,525.3" fill="none" stroke="#008000" stroke-width="1.2" stroke-linejoin="miter"/><polyline points="55.0,412.4 57.4,449.0 70.6,449.0 74.7,464.2 85.3,464.2 89.8,490.0 103.0,490.0 105.7,487.3 112.0,487.3 117.2,471.7 131.0,471.7 134.6,458.8 146.5,458.8 149.7,461.6 163.0,461.6 166.7,499.8 178.2,499.8 182.7,511.2 194.9,511.2 197.2,481.5 206.3,481.5 210.9,465.5 223.0,465.5 225.3,453.0 242.8,453.0 258.4,498.8 270.9,498.8 276.3,525.3 300.0,525.3 301.0,523.4 331.7,523.4 334.0,516.0 365.0,514.0 392.0,513.0 394.0,497.9 408.0,497.9 410.6,471.4 423.8,471.4 427.1,446.6 438.7,446.6 440.3,466.0 455.5,466.0 459.3,488.3 471.5,488.3 473.0,519.4 485.3,519.4 486.0,525.3 500.9,525.3 502.0,518.5 514.6,518.5 516.4,492.9 531.6,492.9 533.9,453.0 548.3,453.0 549.9,419.6 563.3,419.6 566.4,409.7 574.0,409.7 577.8,420.4 590.7,420.4 594.5,439.4 606.7,439.4 610.5,477.7 622.0,478.5 626.5,505.1 641.7,505.1 643.2,515.7 667.6,515.7 669.3,508.3 682.6,508.3 685.0,478.0 698.0,478.0 701.6,458.4 713.8,458.4 718.4,441.7 730.5,441.7 733.0,466.0 735.9,478.5 740.0,478.5 743.5,485.3 746.5,485.3 750.3,500.5 758.0,500.5 761.0,525.3 777.0,525.3 778.0,520.3 790.6,520.3" fill="none" stroke="#008000" stroke-width="1.2" stroke-linejoin="miter"/><polyline points="15.0,507.0 22.0,507.0 23.0,481.0 117.9,481.0 118.1,448.3 200.2,448.3 208.6,440.4 298.2,440.4 302.0,454.6 390.7,454.6 394.9,491.3 482.5,491.5 485.3,511.7 574.4,511.3 578.1,520.2 667.0,520.3 668.0,518.3 760.0,518.3 761.0,520.3 791.0,520.3" fill="none" stroke="#ff0000" stroke-width="1.2" stroke-linejoin="miter"/><polyline points="55.0,412.4 57.4,423.2 70.7,423.2 74.5,441.0 86.8,441.0 88.6,446.0 90.3,468.5 102.4,468.5 106.3,481.2 116.3,482.2 130.0,482.2 134.6,472.1 146.5,472.1 148.8,464.3 163.0,463.4 166.7,473.0 178.2,473.0 181.2,492.0 195.7,492.0 197.2,496.7 206.3,496.7 210.1,485.3 223.0,485.3 223.8,466.3 240.5,466.0 254.5,466.0 258.4,478.5 270.9,478.5 273.2,502.7 288.0,502.7 289.6,516.0 299.0,516.0 300.5,524.0 331.7,524.0 347.0,521.0 350.0,517.0 365.0,515.0 392.0,515.0 394.0,508.6 407.3,508.6 409.8,494.5 422.2,494.5 426.3,472.3 438.7,472.4 440.3,459.2 455.5,459.2 457.8,465.3 470.7,465.3 474.5,489.1 482.5,489.1 485.3,511.7 501.0,511.7 501.8,520.4 514.6,521.0 516.0,511.2 530.8,511.2 534.6,488.4 546.8,488.4 551.0,455.4 561.8,455.4 565.6,427.2 574.0,427.2 577.8,416.5 590.7,416.5 593.8,423.4 606.7,423.4 609.8,446.2 622.7,446.2 625.7,473.9 637.9,473.9 642.5,500.5 651.6,500.5 658.5,513.5 667.6,513.5 669.3,514.3 682.6,514.3 685.9,501.3 698.6,501.3 702.4,481.5 715.3,481.5 716.0,459.2 746.5,459.2 750.3,473.1 758.7,473.1 761.0,501.4 773.9,501.4 778.3,515.0 790.6,515.0" fill="none" stroke="#ff0000" stroke-width="1.2" stroke-linejoin="miter"/><line x1="276" y1="525.5" x2="301" y2="525.5" stroke="#f5fffa" stroke-width="1.3" stroke-dasharray="2 3" shape-rendering="crispEdges"/><line x1="394" y1="525.5" x2="501" y2="525.5" stroke="#f5fffa" stroke-width="1.3" stroke-dasharray="2 3" shape-rendering="crispEdges"/><line x1="761" y1="525.5" x2="791" y2="525.5" stroke="#f5fffa" stroke-width="1.3" stroke-dasharray="2 3" shape-rendering="crispEdges"/><g shape-rendering="crispEdges"><polyline points="15.0,436.0 22.4,500.5 29.2,464.0 33.8,429.5 40.6,421.9 46.7,425.7 50.5,438.6 54.3,466.0 62.0,524.9 66.5,511.2 71.0,509.7 81.0,466.0 86.3,419.6 91.6,449.0 96.2,466.0 98.2,474.0 103.0,449.3 108.4,466.0 113.7,496.7 118.3,496.7 123.6,464.0 130.3,412.8 132.0,412.8 134.4,418.8 141.7,455.0 150.0,499.0 161.4,525.0 166.7,509.7 169.8,466.0 174.4,439.4 178.2,466.0 186.5,508.0 188.0,508.0 191.1,466.0 198.4,437.1 202.5,453.8 207.8,443.2 213.9,421.1 217.0,434.0 221.5,466.0 229.1,522.6 237.3,452.8 242.0,454.4 250.6,522.2 256.0,504.3 259.2,484.0 263.0,482.4 267.0,502.7 273.2,519.9 277.0,522.0 281.8,509.0 285.7,506.6 290.4,485.6 296.6,510.5 302.7,522.6 306.5,522.6 310.4,491.4 314.2,466.0 318.0,434.0 321.8,428.7 328.6,466.0 334.7,517.3 338.5,517.3 342.3,479.2 346.9,466.0 350.0,448.5 352.2,466.0 359.0,500.5 366.7,505.9 373.5,524.9 380.4,509.7 389.5,464.0 394.0,428.0 403.2,411.2 413.9,409.7 420.0,414.3 430.4,414.3 433.4,434.0 435.7,452.3 437.2,466.0 442.5,525.0 457.8,525.0 462.3,509.7 470.0,509.7 474.5,522.6 479.0,521.0 484.4,514.2 492.0,464.0 494.3,431.0 499.6,455.4 506.5,509.7 510.3,517.3 516.4,464.0 522.5,428.0 530.0,428.0 533.9,410.5 542.2,410.5 548.3,438.6 549.9,466.0 554.4,508.9 562.8,464.0 564.8,435.6 567.1,419.6 570.2,417.3 572.5,428.0 573.2,443.2 577.0,444.7 582.4,451.6 584.0,450.0 588.4,461.4 594.5,502.8 598.3,496.0 602.1,471.6 606.7,460.7 608.2,466.0 611.0,479.0 615.0,509.7 618.1,515.0 621.0,511.0 625.0,517.3 629.0,518.0 634.1,505.9 641.0,505.9 646.3,512.7 649.3,505.1 654.6,464.0 658.5,436.3 664.5,466.0 669.1,511.2 670.6,524.9 675.2,524.9 676.7,510.0 680.5,466.0 686.6,437.9 690.4,471.6 695.8,471.6 701.6,418.8 706.2,418.0 711.5,458.4 718.4,490.6 723.0,466.0 726.0,447.8 729.0,460.0 735.1,479.2 740.0,480.0 742.0,485.3 745.8,486.0 749.6,524.9 750.3,525.0 755.0,515.7 759.4,502.0 765.5,470.0 767.8,468.6 771.6,483.8 777.7,509.7 782.3,482.3 786.8,481.5 789.9,454.6" fill="none" stroke="#008000" stroke-width="2" stroke-linejoin="miter"/><polyline points="15.0,420.4 20.8,466.0 24.7,496.0 33.0,464.0 39.1,428.7 44.4,423.4 49.0,424.2 55.0,447.0 58.1,466.0 65.8,512.7 70.3,515.0 79.4,499.0 85.5,464.0 90.1,439.4 95.4,446.2 98.5,460.7 105.3,460.7 111.4,465.0 117.5,492.2 126.6,464.0 129.4,434.4 134.0,420.6 136.2,421.0 138.5,423.3 145.0,455.0 148.0,464.0 162.2,521.8 168.3,503.6 173.6,473.0 178.2,455.4 181.2,466.0 189.6,497.5 197.2,464.0 200.2,449.3 207.8,444.7 214.7,434.8 218.5,437.1 223.0,466.0 231.4,512.0 239.7,480.9 244.4,464.5 247.0,468.0 253.7,504.3 258.4,504.3 262.3,490.2 267.0,492.0 275.6,512.0 277.9,521.4 288.0,512.0 294.3,498.0 299.0,501.0 305.8,513.5 310.4,509.7 319.5,464.0 321.8,444.7 325.9,437.9 328.6,444.7 331.7,466.0 338.5,506.6 340.7,504.3 349.9,467.0 352.9,467.0 360.6,494.4 366.7,503.6 371.0,507.0 378.8,515.7 386.5,494.0 392.5,464.0 398.6,431.0 407.8,415.0 412.3,411.2 418.4,411.2 430.4,414.3 435.0,428.0 438.7,448.5 441.0,466.0 450.2,525.0 456.2,525.0 469.2,511.2 473.8,522.0 482.9,520.3 489.0,502.0 496.6,464.0 498.1,448.5 502.7,455.4 504.2,466.0 510.3,505.1 513.3,504.3 521.0,464.0 526.3,433.3 542.2,411.2 547.6,421.1 554.4,466.0 558.2,492.2 562.6,486.8 566.4,464.0 570.2,431.8 574.0,427.2 582.4,446.2 586.2,448.5 592.2,466.0 598.3,492.9 608.2,472.4 610.5,470.0 618.9,501.3 625.0,512.7 629.5,517.3 634.0,514.0 641.7,507.4 646.3,508.1 655.4,464.0 662.3,451.6 666.8,460.0 673.7,511.2 679.0,512.7 685.9,464.0 690.4,454.6 697.8,463.0 706.2,428.7 709.2,430.2 716.0,456.9 721.4,477.0 728.2,464.0 730.5,459.2 740.4,480.7 745.8,483.0 758.7,513.5 765.5,486.8 771.6,476.2 780.8,499.8 786.8,488.4 789.9,472.4" fill="none" stroke="#ff0000" stroke-width="2" stroke-linejoin="miter"/><rect x="15" y="409" width="3" height="1" fill="#ff0000"/></g></g><path d="M245.9 475.5H249.1V480.5H253.0L247.5 489L242.0 480.5H245.9Z" fill="#ff0000"/><path d="M264.9 486H268.1V492H272.0L266.5 499.5L261.0 492H264.9Z" fill="#ff0000"/><path d="M293.79999999999995 492H297.0V496H300.9L295.4 505L289.9 496H293.79999999999995Z" fill="#ff0000"/><path d="M474.0 514H477.20000000000005V522H480.6L475.6 530.5L470.6 522H474.0Z" fill="#ff0000"/><path d="M769.8 467H773.0V471.8H776.9L771.4 479.5L765.9 471.8H769.8Z" fill="#ff0000"/><path d="M121.39999999999999 467H124.2V461H128.3L122.8 452L117.3 461H121.39999999999999Z" fill="#008000" stroke="#70e0f0" stroke-width="0.4"/><g><rect x="18.5" y="18.5" width="14" height="12" rx="1.5" fill="#ffffff" stroke="#505050" stroke-width="1"/><rect x="18.5" y="29.5" width="14" height="1.2" fill="#404040"/><rect x="18" y="18" width="15" height="2.4" rx="1" fill="#4a4aff"/><g fill="#e07070"><rect x="20" y="22" width="5" height="1"/><rect x="20" y="24" width="5" height="1"/><rect x="20" y="26" width="5" height="1"/><rect x="20" y="28" width="5" height="1"/></g><g fill="#6a6aff"><rect x="26" y="22" width="5" height="1"/><rect x="26" y="24" width="5" height="1"/><rect x="26" y="26" width="5" height="1"/><rect x="26" y="28" width="5" height="1"/></g><path d="M35 20.2Q35 19 36.2 19H37.2Q38.4 19 38.4 20.2V23.3H40.8Q42 23.3 42 24.5V28.6Q42 29.8 40.8 29.8H36.2Q35 29.8 35 28.6Z" fill="#2b2bff" stroke="#1010d0" stroke-width="0.6"/><rect x="36" y="28" width="5" height="0.9" fill="#9a9aff"/><path d="M49.9 20.2Q49.9 19 48.7 19H47.7Q46.5 19 46.5 20.2V23.3H44.4Q43.2 23.3 43.2 24.5V28.6Q43.2 29.8 44.4 29.8H48.7Q49.9 29.8 49.9 28.6Z" fill="#c83030" stroke="#a01818" stroke-width="0.6"/><rect x="44.2" y="28" width="5" height="0.9" fill="#e89a9a"/><rect x="40.4" y="19" width="4" height="1" fill="#505050"/><rect x="40.4" y="21" width="4" height="1" fill="#505050"/></g><g fill="#000" shape-rendering="crispEdges"><rect x="14" y="14" width="867" height="1"/><rect x="14" y="14" width="1" height="382"/><rect x="880" y="14" width="1" height="382"/><rect x="14" y="395" width="867" height="1"/><rect x="14" y="397" width="867" height="1"/><rect x="14" y="397" width="1" height="137"/><rect x="880" y="397" width="1" height="137"/></g><g fill="#000"><rect x="881" y="43" width="4" height="1"/><rect x="881" y="75" width="4" height="1"/><rect x="881" y="107" width="4" height="1"/><rect x="881" y="139" width="4" height="1"/><rect x="881" y="171" width="4" height="1"/><rect x="881" y="203" width="4" height="1"/><rect x="881" y="235" width="4" height="1"/><rect x="881" y="267" width="4" height="1"/><rect x="881" y="299" width="4" height="1"/><rect x="881" y="331" width="4" height="1"/><rect x="881" y="363" width="4" height="1"/><rect x="881" y="397" width="4" height="1"/><rect x="881" y="432" width="4" height="1"/><rect x="881" y="502" width="4" height="1"/></g>
</svg>
<div class="ax" style="top:37.7px">1810.06</div><div class="ax" style="top:69.7px">1798.71</div><div class="ax" style="top:101.7px">1787.36</div><div class="ax" style="top:133.7px">1776.01</div><div class="ax" style="top:165.7px">1764.66</div><div class="ax" style="top:197.7px">1753.31</div><div class="ax" style="top:229.7px">1741.96</div><div class="ax" style="top:261.7px">1730.61</div><div class="ax" style="top:293.7px">1719.26</div><div class="ax" style="top:325.7px">1707.91</div><div class="ax" style="top:357.7px">1696.56</div><div class="ax" style="top:396.7px">110.50</div><div class="ax" style="top:426.7px">80.00</div><div class="ax" style="top:496.7px">20.00</div><div class="ax" style="top:518.7px">0.00</div><div class="ax" style="top:525.7px">-10.50</div>
<div class="pl">1695.54</div>
<svg width="946" height="545" viewBox="0 0 946 545" style="z-index:5"><g opacity="0.93"><rect x="826.5" y="516" width="1" height="29" fill="#a9c3d3"/><rect x="843.5" y="495" width="1" height="50" fill="#a9c3d3"/><rect x="819" y="533" width="15.5" height="6" fill="#2f7bb1"/><rect x="837" y="499.3" width="14.7" height="39.7" fill="#2f7bb1"/><path d="M840 499.3H853.5A11.2 11.2 0 1 1 842.3 510.5H840Z" fill="#2a6893"/><rect x="851.6" y="499.3" width="1" height="11" fill="#9fbfd2"/><text x="856" y="538.7" font-family="Liberation Sans" font-weight="bold" font-size="30.5" fill="#2f7bb1" stroke="#2f7bb1" stroke-width="0.5" letter-spacing="-0.3">rof-FX</text></g></svg>
<div class="t" style="left:55px;top:19px;">XAUUSD, H1:&nbsp; Gold vs US Dollar</div>
<div class="t" style="left:18px;top:401px;font-size:9.4px;">H4,D1 in H1 Stochastic 61.19 45.35 4.07 8.52 0.00 3.86 0.00 0.00</div>
<div class="t" style="left:18px;top:420.7px;font-size:9.3px;">Overbought</div>
<div class="t" style="left:18px;top:490.5px;font-size:9.3px;">Oversold</div>
</body></html>
